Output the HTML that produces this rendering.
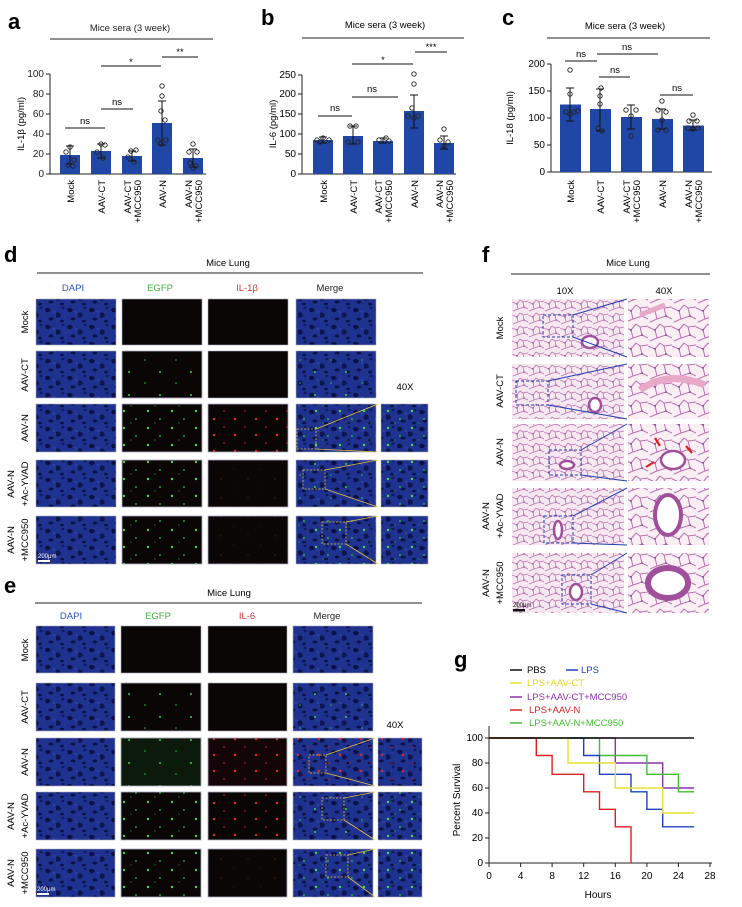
<!DOCTYPE html>
<html><head><meta charset="utf-8"><style>
html,body{margin:0;padding:0;background:#fff}
svg{display:block;font-family:"Liberation Sans",Arial,sans-serif}
</style></head><body>
<svg width="742" height="907" viewBox="0 0 742 907" xmlns="http://www.w3.org/2000/svg">
<defs>
<pattern id="dapi" width="22" height="17" patternUnits="userSpaceOnUse">
<rect width="22" height="17" fill="#1f3290"/>
<path d="M1 3 Q4 0 7 4 Q5 7 2 6Z" fill="#0a1245"/><path d="M12 7 Q16 5 17 10 Q14 13 12 11Z" fill="#0c1650"/>
<ellipse cx="7" cy="13" rx="2.5" ry="1.5" fill="#0a1245"/><ellipse cx="19" cy="2" rx="1.5" ry="1.2" fill="#0e1a5c"/>
<ellipse cx="10" cy="6" rx="1.2" ry="1" fill="#2e46aa"/><ellipse cx="18" cy="15" rx="2" ry="1.3" fill="#0a1245"/>
</pattern>
<pattern id="gd" width="31" height="23" patternUnits="userSpaceOnUse">
<circle cx="5" cy="4" r="1" fill="#3fd04a"/><circle cx="21" cy="15" r="0.8" fill="#36b840"/>
</pattern>
<pattern id="gd2" width="24" height="17" patternUnits="userSpaceOnUse">
<circle cx="4" cy="3" r="1.2" fill="#45d850"/><circle cx="16" cy="11" r="0.9" fill="#3ac444"/><circle cx="11" cy="15" r="0.6" fill="#2a9a33"/>
</pattern>
<pattern id="rd" width="21" height="16" patternUnits="userSpaceOnUse">
<circle cx="4" cy="3" r="1.2" fill="#e02828"/><circle cx="14" cy="11" r="0.9" fill="#b02020"/>
</pattern>
<pattern id="rf" width="27" height="19" patternUnits="userSpaceOnUse">
<circle cx="5" cy="4" r="0.7" fill="#5a1212"/><circle cx="18" cy="13" r="0.6" fill="#4a1010"/>
</pattern>
<pattern id="he" width="16" height="13" patternUnits="userSpaceOnUse">
<rect width="16" height="13" fill="#f6e8f0"/>
<path d="M0 3 L5 5 L8 1 M5 5 L6 10 L1 12 M6 10 L12 8 L16 10 M12 8 L11 3 L16 2 M11 3 L8 1" stroke="#bd74b2" stroke-width="0.8" fill="none"/>
<circle cx="5" cy="5" r="0.7" fill="#7a3a8a"/><circle cx="12" cy="8" r="0.7" fill="#7a3a8a"/>
</pattern>
<pattern id="he2" width="24" height="19" patternUnits="userSpaceOnUse">
<rect width="24" height="19" fill="#f8eef4"/>
<path d="M0 4 L7 7 L12 1 M7 7 L9 15 L2 18 M9 15 L18 12 L24 15 M18 12 L16 4 L24 3 M16 4 L12 1" stroke="#b872ac" stroke-width="1" fill="none"/>
<circle cx="7" cy="7" r="0.9" fill="#7a3a8a"/><circle cx="18" cy="12" r="0.9" fill="#7a3a8a"/>
</pattern>
</defs>

<!-- ===== Panel a ===== -->
<text x="8" y="29" font-size="22" font-weight="bold">a</text>
<text x="130" y="31" font-size="9.5" text-anchor="middle" fill="#222">Mice sera (3 week)</text>
<line x1="50" y1="39" x2="213" y2="39" stroke="#222" stroke-width="1"/>
<g stroke="#222" stroke-width="1" fill="none">
<line x1="50" y1="74" x2="50" y2="174"/><line x1="50" y1="174" x2="206" y2="174"/>
<line x1="46" y1="74" x2="50" y2="74"/><line x1="46" y1="94" x2="50" y2="94"/><line x1="46" y1="114" x2="50" y2="114"/><line x1="46" y1="134" x2="50" y2="134"/><line x1="46" y1="154" x2="50" y2="154"/><line x1="46" y1="174" x2="50" y2="174"/>
</g>
<g font-size="10" text-anchor="end" fill="#222"><text x="44" y="77">100</text><text x="44" y="97">80</text><text x="44" y="117">60</text><text x="44" y="137">40</text><text x="44" y="157">20</text><text x="44" y="177">0</text></g>
<text transform="translate(24,124) rotate(-90)" font-size="9.5" text-anchor="middle">IL-1β (pg/ml)</text>
<g fill="#2046a6"><rect x="60" y="155" width="20" height="19"/><rect x="91" y="151" width="20" height="23"/><rect x="122" y="156" width="20" height="18"/><rect x="152" y="123" width="20" height="51"/><rect x="183" y="158" width="20" height="16"/></g>
<g stroke="#111" stroke-width="1"><path d="M70 146V164M66 146H74M66 164H74"/><path d="M101 144V158M97 144H105M97 158H105"/><path d="M132 151V161M128 151H136M128 161H136"/><path d="M162 101V145M158 101H166M158 145H166"/><path d="M193 149V167M189 149H197M189 167H197"/></g>
<g fill="none" stroke="#222" stroke-width="0.9">
<circle cx="70" cy="147" r="2.2"/><circle cx="66" cy="152" r="2.2"/><circle cx="74" cy="160" r="2.2"/><circle cx="68" cy="165" r="2.2"/><circle cx="73" cy="166" r="2.2"/>
<circle cx="101" cy="144" r="2.2"/><circle cx="105" cy="145" r="2.2"/><circle cx="97" cy="152" r="2.2"/><circle cx="103" cy="158" r="2.2"/>
<circle cx="131" cy="151" r="2.2"/><circle cx="136" cy="150" r="2.2"/><circle cx="128" cy="157" r="2.2"/><circle cx="134" cy="162" r="2.2"/>
<circle cx="162" cy="86" r="2.2"/><circle cx="162" cy="96" r="2.2"/><circle cx="161" cy="111" r="2.2"/><circle cx="165" cy="120" r="2.2"/><circle cx="158" cy="140" r="2.2"/><circle cx="166" cy="140" r="2.2"/><circle cx="161" cy="144" r="2.2"/>
<circle cx="193" cy="144" r="2.2"/><circle cx="189" cy="152" r="2.2"/><circle cx="197" cy="152" r="2.2"/><circle cx="190" cy="163" r="2.2"/><circle cx="196" cy="166" r="2.2"/><circle cx="193" cy="168" r="2.2"/>
</g>
<g stroke="#111" stroke-width="1"><line x1="65" y1="128" x2="105" y2="128"/><line x1="101" y1="109" x2="133" y2="109"/><line x1="101" y1="66" x2="161" y2="66"/><line x1="162" y1="57" x2="198" y2="57"/></g>
<g font-size="9.5" text-anchor="middle"><text x="85" y="124">ns</text><text x="117" y="105">ns</text><text x="131" y="65">*</text><text x="180" y="55">**</text></g>
<g font-size="9.5" text-anchor="end">
<text transform="translate(74,180) rotate(-90)">Mock</text>
<text transform="translate(105,180) rotate(-90)">AAV-CT</text>
<text transform="translate(131,180) rotate(-90)">AAV-CT</text><text transform="translate(141,180) rotate(-90)">+MCC950</text>
<text transform="translate(166,180) rotate(-90)">AAV-N</text>
<text transform="translate(192,180) rotate(-90)">AAV-N</text><text transform="translate(202,180) rotate(-90)">+MCC950</text>
</g>

<!-- ===== Panel b ===== -->
<text x="261" y="25" font-size="22" font-weight="bold">b</text>
<text x="385" y="28" font-size="9.5" text-anchor="middle">Mice sera (3 week)</text>
<line x1="302" y1="38" x2="464" y2="38" stroke="#222"/>
<g stroke="#222" fill="none"><line x1="302" y1="75" x2="302" y2="174"/><line x1="302" y1="174" x2="456" y2="174"/>
<path d="M298 75H302M298 94H302M298 114H302M298 134H302M298 154H302M298 174H302"/></g>
<g font-size="10" text-anchor="end"><text x="296" y="78">250</text><text x="296" y="97">200</text><text x="296" y="117">150</text><text x="296" y="137">100</text><text x="296" y="157">50</text><text x="296" y="177">0</text></g>
<text transform="translate(276,124) rotate(-90)" font-size="9.5" text-anchor="middle">IL-6 (pg/ml)</text>
<g fill="#2046a6"><rect x="313" y="140" width="20" height="34"/><rect x="343" y="136" width="20" height="38"/><rect x="373" y="141" width="20" height="33"/><rect x="404" y="111" width="20" height="63"/><rect x="434" y="143" width="20" height="31"/></g>
<g stroke="#111"><path d="M323 137V143M319 137H327M319 143H327"/><path d="M353 126V144M349 126H357M349 144H357"/><path d="M383 138V143M379 138H387M379 143H387"/><path d="M414 95V128M410 95H418M410 128H418"/><path d="M444 136V149M440 136H448M440 149H448"/></g>
<g fill="none" stroke="#222" stroke-width="0.9">
<circle cx="317" cy="140" r="2.2"/><circle cx="323" cy="138" r="2.2"/><circle cx="329" cy="140" r="2.2"/><circle cx="320" cy="142" r="2.2"/>
<circle cx="350" cy="126" r="2.2"/><circle cx="356" cy="126" r="2.2"/><circle cx="348" cy="142" r="2.2"/><circle cx="358" cy="142" r="2.2"/>
<circle cx="379" cy="140" r="2.2"/><circle cx="386" cy="138" r="2.2"/><circle cx="389" cy="141" r="2.2"/>
<circle cx="414" cy="74" r="2.2"/><circle cx="414" cy="84" r="2.2"/><circle cx="412" cy="108" r="2.2"/><circle cx="408" cy="116" r="2.2"/><circle cx="418" cy="116" r="2.2"/><circle cx="414" cy="118" r="2.2"/>
<circle cx="444" cy="129" r="2.2"/><circle cx="440" cy="140" r="2.2"/><circle cx="448" cy="142" r="2.2"/><circle cx="444" cy="146" r="2.2"/>
</g>
<g stroke="#111"><line x1="318" y1="116" x2="352" y2="116"/><line x1="352" y1="97" x2="398" y2="97"/><line x1="352" y1="64" x2="413" y2="64"/><line x1="415" y1="52" x2="447" y2="52"/></g>
<g font-size="9.5" text-anchor="middle"><text x="335" y="111">ns</text><text x="372" y="92">ns</text><text x="383" y="63">*</text><text x="431" y="50">***</text></g>
<g font-size="9.5" text-anchor="end">
<text transform="translate(327,180) rotate(-90)">Mock</text>
<text transform="translate(357,180) rotate(-90)">AAV-CT</text>
<text transform="translate(382,180) rotate(-90)">AAV-CT</text><text transform="translate(392,180) rotate(-90)">+MCC950</text>
<text transform="translate(418,180) rotate(-90)">AAV-N</text>
<text transform="translate(443,180) rotate(-90)">AAV-N</text><text transform="translate(453,180) rotate(-90)">+MCC950</text>
</g>

<!-- ===== Panel c ===== -->
<text x="502" y="25" font-size="22" font-weight="bold">c</text>
<text x="625" y="29" font-size="9.5" text-anchor="middle">Mice sera (3 week)</text>
<line x1="547" y1="38" x2="710" y2="38" stroke="#222"/>
<g stroke="#222" fill="none"><line x1="551" y1="64" x2="551" y2="172"/><line x1="551" y1="172" x2="712" y2="172"/>
<path d="M547 64H551M547 91H551M547 118H551M547 145H551M547 172H551"/></g>
<g font-size="10" text-anchor="end"><text x="545" y="67">200</text><text x="545" y="94">150</text><text x="545" y="121">100</text><text x="545" y="148">50</text><text x="545" y="175">0</text></g>
<text transform="translate(513,118) rotate(-90)" font-size="9.5" text-anchor="middle">IL-18 (pg/ml)</text>
<g fill="#2046a6"><rect x="560" y="104.5" width="21" height="67.5"/><rect x="590" y="109" width="21" height="63"/><rect x="621" y="117" width="21" height="55"/><rect x="652" y="119" width="21" height="53"/><rect x="683" y="125.6" width="21" height="46.4"/></g>
<g stroke="#111"><path d="M570 88V121M566 88H574M566 121H574"/><path d="M600 89V131M596 89H604M596 131H604"/><path d="M631 105V129M627 105H635M627 129H635"/><path d="M662 109V129M658 109H666M658 129H666"/><path d="M693 120V130M689 120H697M689 130H697"/></g>
<g fill="none" stroke="#222" stroke-width="0.9">
<circle cx="570" cy="70" r="2.2"/><circle cx="570" cy="94" r="2.2"/><circle cx="566" cy="112" r="2.2"/><circle cx="574" cy="112" r="2.2"/><circle cx="578" cy="111" r="2.2"/><circle cx="570" cy="114" r="2.2"/>
<circle cx="601" cy="88" r="2.2"/><circle cx="600" cy="96" r="2.2"/><circle cx="600" cy="104" r="2.2"/><circle cx="598" cy="128" r="2.2"/><circle cx="602" cy="131" r="2.2"/>
<circle cx="626" cy="110" r="2.2"/><circle cx="636" cy="110" r="2.2"/><circle cx="631" cy="116" r="2.2"/><circle cx="631" cy="136" r="2.2"/>
<circle cx="662" cy="101" r="2.2"/><circle cx="658" cy="110" r="2.2"/><circle cx="666" cy="112" r="2.2"/><circle cx="662" cy="120" r="2.2"/><circle cx="658" cy="130" r="2.2"/><circle cx="666" cy="130" r="2.2"/>
<circle cx="693" cy="115" r="2.2"/><circle cx="689" cy="121" r="2.2"/><circle cx="697" cy="121" r="2.2"/><circle cx="688" cy="128" r="2.2"/><circle cx="698" cy="128" r="2.2"/><circle cx="693" cy="129" r="2.2"/>
</g>
<g stroke="#111"><line x1="565" y1="61" x2="597" y2="61"/><line x1="597" y1="54" x2="658" y2="54"/><line x1="599" y1="77" x2="630" y2="77"/><line x1="660" y1="95" x2="693" y2="95"/></g>
<g font-size="9.5" text-anchor="middle"><text x="581" y="57">ns</text><text x="627" y="50">ns</text><text x="615" y="73">ns</text><text x="677" y="91">ns</text></g>
<g font-size="9.5" text-anchor="end">
<text transform="translate(574,180) rotate(-90)">Mock</text>
<text transform="translate(604,180) rotate(-90)">AAV-CT</text>
<text transform="translate(630,180) rotate(-90)">AAV-CT</text><text transform="translate(640,180) rotate(-90)">+MCC950</text>
<text transform="translate(666,180) rotate(-90)">AAV-N</text>
<text transform="translate(692,180) rotate(-90)">AAV-N</text><text transform="translate(702,180) rotate(-90)">+MCC950</text>
</g>

<!-- ===== Panel d ===== -->
<text x="4" y="262" font-size="22" font-weight="bold">d</text>
<text x="228" y="266" font-size="9.5" text-anchor="middle">Mice Lung</text>
<line x1="37" y1="273" x2="423" y2="273" stroke="#222"/>
<g font-size="9.5" text-anchor="middle"><text x="73" y="291" fill="#3050c0">DAPI</text><text x="160" y="291" fill="#40b040">EGFP</text><text x="247" y="291" fill="#e03030">IL-1β</text><text x="330" y="291" fill="#222">Merge</text></g>
<text x="405" y="390" font-size="9.5" text-anchor="middle">40X</text>
<g stroke="#aab" stroke-width="0.6">
<rect x="36" y="299" width="80" height="46" fill="url(#dapi)"/><rect x="122" y="299" width="80" height="46" fill="#0a0606"/><rect x="208" y="299" width="80" height="46" fill="#0a0606"/><rect x="296" y="299" width="80" height="46" fill="url(#dapi)"/>
<rect x="36" y="351" width="80" height="47" fill="url(#dapi)"/><rect x="122" y="351" width="80" height="47" fill="#0a0606"/><rect x="122" y="351" width="80" height="47" fill="url(#gd)"/><rect x="208" y="351" width="80" height="47" fill="#0a0606"/><rect x="296" y="351" width="80" height="47" fill="url(#dapi)"/><rect x="296" y="351" width="80" height="47" fill="url(#gd)" stroke="none"/>
<rect x="36" y="404" width="80" height="48" fill="url(#dapi)"/><rect x="122" y="404" width="80" height="48" fill="#0a0606"/><rect x="122" y="404" width="80" height="48" fill="url(#gd2)"/><rect x="208" y="404" width="80" height="48" fill="#0a0606"/><rect x="208" y="404" width="80" height="48" fill="url(#rd)"/><rect x="296" y="404" width="80" height="48" fill="url(#dapi)"/><rect x="296" y="404" width="80" height="48" fill="url(#gd2)" stroke="none"/><rect x="381" y="404" width="47" height="48" fill="url(#dapi)"/><rect x="381" y="404" width="47" height="48" fill="url(#gd2)" stroke="none"/>
<rect x="36" y="460" width="80" height="47" fill="url(#dapi)"/><rect x="122" y="460" width="80" height="47" fill="#0a0606"/><rect x="122" y="460" width="80" height="47" fill="url(#gd2)"/><rect x="208" y="460" width="80" height="47" fill="#0a0606"/><rect x="208" y="460" width="80" height="47" fill="url(#rf)"/><rect x="296" y="460" width="80" height="47" fill="url(#dapi)"/><rect x="296" y="460" width="80" height="47" fill="url(#gd)" stroke="none"/><rect x="381" y="460" width="47" height="47" fill="url(#dapi)"/><rect x="381" y="460" width="47" height="47" fill="url(#gd2)" stroke="none"/>
<rect x="36" y="516" width="80" height="48" fill="url(#dapi)"/><rect x="122" y="516" width="80" height="48" fill="#0a0606"/><rect x="122" y="516" width="80" height="48" fill="url(#gd2)"/><rect x="208" y="516" width="80" height="48" fill="#0a0606"/><rect x="208" y="516" width="80" height="48" fill="url(#rf)"/><rect x="296" y="516" width="80" height="48" fill="url(#dapi)"/><rect x="296" y="516" width="80" height="48" fill="url(#gd2)" stroke="none"/><rect x="381" y="516" width="47" height="48" fill="url(#dapi)"/><rect x="381" y="516" width="47" height="48" fill="url(#gd2)" stroke="none"/>
</g>
<g stroke="#e8c040" stroke-width="0.8" fill="none">
<rect x="297" y="429" width="19" height="20" stroke-dasharray="2,1.5"/><path d="M316 429L378 404M316 449L378 452"/>
<rect x="303" y="470" width="22" height="19" stroke-dasharray="2,1.5"/><path d="M325 470L378 460M325 489L378 507"/>
<rect x="322" y="522" width="24" height="22" stroke-dasharray="2,1.5"/><path d="M346 522L378 516M346 544L378 564"/>
</g>
<rect x="38" y="560" width="12" height="2" fill="#fff"/><text x="38" y="558" font-size="6" fill="#fff">200μm</text>
<g font-size="9.5" text-anchor="middle">
<text transform="translate(28,322) rotate(-90)">Mock</text>
<text transform="translate(28,375) rotate(-90)">AAV-CT</text>
<text transform="translate(28,428) rotate(-90)">AAV-N</text>
<text transform="translate(14,484) rotate(-90)">AAV-N</text><text transform="translate(28,484) rotate(-90)">+Ac-YVAD</text>
<text transform="translate(14,540) rotate(-90)">AAV-N</text><text transform="translate(28,540) rotate(-90)">+MCC950</text>
</g>

<!-- ===== Panel e ===== -->
<text x="4" y="593" font-size="22" font-weight="bold">e</text>
<text x="229" y="596" font-size="9.5" text-anchor="middle">Mice Lung</text>
<line x1="35" y1="603" x2="422" y2="603" stroke="#222"/>
<g font-size="9.5" text-anchor="middle"><text x="71" y="619" fill="#3050c0">DAPI</text><text x="158" y="619" fill="#40b040">EGFP</text><text x="247" y="619" fill="#e03030">IL-6</text><text x="327" y="619" fill="#222">Merge</text></g>
<text x="395" y="728" font-size="9.5" text-anchor="middle">40X</text>
<g stroke="#aab" stroke-width="0.6">
<rect x="36" y="626" width="79" height="47" fill="url(#dapi)"/><rect x="121" y="626" width="80" height="47" fill="#0a0606"/><rect x="208" y="626" width="79" height="47" fill="#0a0606"/><rect x="293" y="626" width="80" height="47" fill="url(#dapi)"/>
<rect x="36" y="683" width="79" height="48" fill="url(#dapi)"/><rect x="121" y="683" width="80" height="48" fill="#0a0606"/><rect x="121" y="683" width="80" height="48" fill="url(#gd)"/><rect x="208" y="683" width="79" height="48" fill="#0a0606"/><rect x="293" y="683" width="80" height="48" fill="url(#dapi)"/><rect x="293" y="683" width="80" height="48" fill="url(#gd)" stroke="none"/>
<rect x="36" y="738" width="79" height="48" fill="url(#dapi)"/><rect x="121" y="738" width="80" height="48" fill="#0b1a0b"/><rect x="121" y="738" width="80" height="48" fill="url(#gd)"/><rect x="208" y="738" width="79" height="48" fill="#140606"/><rect x="208" y="738" width="79" height="48" fill="url(#rd)"/><rect x="293" y="738" width="80" height="48" fill="url(#dapi)"/><rect x="293" y="738" width="80" height="48" fill="url(#rd)" stroke="none"/><rect x="378" y="738" width="44" height="48" fill="url(#dapi)"/><rect x="378" y="738" width="44" height="48" fill="url(#rd)" stroke="none"/>
<rect x="36" y="792" width="79" height="48" fill="url(#dapi)"/><rect x="121" y="792" width="80" height="48" fill="#0a0606"/><rect x="121" y="792" width="80" height="48" fill="url(#gd2)"/><rect x="208" y="792" width="79" height="48" fill="#0a0606"/><rect x="208" y="792" width="79" height="48" fill="url(#rd)"/><rect x="293" y="792" width="80" height="48" fill="url(#dapi)"/><rect x="293" y="792" width="80" height="48" fill="url(#gd)" stroke="none"/><rect x="378" y="792" width="44" height="48" fill="url(#dapi)"/><rect x="378" y="792" width="44" height="48" fill="url(#gd2)" stroke="none"/>
<rect x="36" y="849" width="79" height="48" fill="url(#dapi)"/><rect x="121" y="849" width="80" height="48" fill="#0a0606"/><rect x="121" y="849" width="80" height="48" fill="url(#gd2)"/><rect x="208" y="849" width="79" height="48" fill="#0a0606"/><rect x="208" y="849" width="79" height="48" fill="url(#rf)"/><rect x="293" y="849" width="80" height="48" fill="url(#dapi)"/><rect x="293" y="849" width="80" height="48" fill="url(#gd2)" stroke="none"/><rect x="378" y="849" width="44" height="48" fill="url(#dapi)"/><rect x="378" y="849" width="44" height="48" fill="url(#gd2)" stroke="none"/>
</g>
<g stroke="#e8c040" stroke-width="0.8" fill="none">
<rect x="309" y="755" width="17" height="18" stroke-dasharray="2,1.5"/><path d="M326 755L375 738M326 773L375 786"/>
<rect x="322" y="798" width="22" height="22" stroke-dasharray="2,1.5"/><path d="M344 798L375 792M344 820L375 840"/>
<rect x="326" y="855" width="22" height="22" stroke-dasharray="2,1.5"/><path d="M348 855L375 849M348 877L375 897"/>
</g>
<rect x="37" y="893" width="12" height="2" fill="#fff"/><text x="37" y="891" font-size="6" fill="#fff">200μm</text>
<g font-size="9.5" text-anchor="middle">
<text transform="translate(28,650) rotate(-90)">Mock</text>
<text transform="translate(28,707) rotate(-90)">AAV-CT</text>
<text transform="translate(28,762) rotate(-90)">AAV-N</text>
<text transform="translate(14,816) rotate(-90)">AAV-N</text><text transform="translate(28,816) rotate(-90)">+Ac-YVAD</text>
<text transform="translate(14,873) rotate(-90)">AAV-N</text><text transform="translate(28,873) rotate(-90)">+MCC950</text>
</g>

<!-- ===== Panel f ===== -->
<text x="482" y="262" font-size="22" font-weight="bold">f</text>
<text x="628" y="266" font-size="9.5" text-anchor="middle">Mice Lung</text>
<line x1="511" y1="274" x2="710" y2="274" stroke="#222"/>
<g font-size="9.5" text-anchor="middle"><text x="565" y="294">10X</text><text x="664" y="294">40X</text></g>
<g>
<rect x="512" y="299" width="112" height="58" fill="url(#he)"/><rect x="628" y="299" width="81" height="58" fill="url(#he2)"/>
<rect x="512" y="364" width="112" height="55" fill="url(#he)"/><rect x="628" y="364" width="81" height="55" fill="url(#he2)"/>
<rect x="512" y="424" width="112" height="57" fill="url(#he)"/><rect x="628" y="424" width="81" height="57" fill="url(#he2)"/>
<rect x="512" y="488" width="112" height="57" fill="url(#he)"/><rect x="628" y="488" width="81" height="57" fill="url(#he2)"/>
<rect x="512" y="553" width="112" height="60" fill="url(#he)"/><rect x="628" y="553" width="81" height="60" fill="url(#he2)"/>
</g>
<g fill="#fff" stroke="#a0509a" stroke-width="2.5">
<ellipse cx="590" cy="342" rx="8" ry="6"/><ellipse cx="595" cy="405" rx="6" ry="7"/><ellipse cx="567" cy="465" rx="7" ry="4"/><ellipse cx="558" cy="530" rx="4" ry="9"/><ellipse cx="576" cy="592" rx="6" ry="8"/>
<ellipse cx="673" cy="460" rx="12" ry="9"/><ellipse cx="668" cy="515" rx="13" ry="20" stroke-width="4"/><ellipse cx="668" cy="583" rx="20" ry="15" stroke-width="6"/>
</g>
<path d="M640 390 Q668 370 705 385" stroke="#e8a8c8" stroke-width="7" fill="none"/>
<path d="M640 315 L665 305" stroke="#e8a8c8" stroke-width="5" fill="none"/>
<g stroke="#e02020" stroke-width="2.2"><line x1="654" y1="462" x2="646" y2="467"/><line x1="655" y1="438" x2="660" y2="446"/><line x1="686" y1="446" x2="692" y2="453"/></g>
<g stroke="#2040b0" stroke-width="1" fill="none">
<rect x="543" y="315" width="30" height="22" stroke-dasharray="3,2"/><path d="M573 315L627 299M573 337L627 357"/>
<rect x="516" y="381" width="32" height="24" stroke-dasharray="3,2"/><path d="M548 381L627 364M548 405L627 419"/>
<rect x="549" y="450" width="32" height="25" stroke-dasharray="3,2"/><path d="M581 450L627 424M581 475L627 481"/>
<rect x="544" y="516" width="29" height="27" stroke-dasharray="3,2"/><path d="M573 516L627 488M573 543L627 545"/>
<rect x="562" y="575" width="29" height="29" stroke-dasharray="3,2"/><path d="M591 575L627 553M591 604L627 613"/>
</g>
<rect x="513" y="609" width="12" height="2.5" fill="#111"/><text x="513" y="607" font-size="6">200μm</text>
<g font-size="9.5" text-anchor="middle">
<text transform="translate(503,328) rotate(-90)">Mock</text>
<text transform="translate(503,391) rotate(-90)">AAV-CT</text>
<text transform="translate(503,452) rotate(-90)">AAV-N</text>
<text transform="translate(489,516) rotate(-90)">AAV-N</text><text transform="translate(503,516) rotate(-90)">+Ac-YVAD</text>
<text transform="translate(489,583) rotate(-90)">AAV-N</text><text transform="translate(503,583) rotate(-90)">+MCC950</text>
</g>

<!-- ===== Panel g ===== -->
<text x="454" y="667" font-size="22" font-weight="bold">g</text>
<g font-size="9.5">
<line x1="510" y1="670" x2="522" y2="670" stroke="#111" stroke-width="1.5"/><text x="527" y="673">PBS</text>
<line x1="566" y1="670" x2="578" y2="670" stroke="#2040c0" stroke-width="1.5"/><text x="581" y="673" fill="#2040c0">LPS</text>
<line x1="510" y1="683" x2="522" y2="683" stroke="#e8e030" stroke-width="1.5"/><text x="527" y="686" fill="#e0d820">LPS+AAV-CT</text>
<line x1="510" y1="697" x2="522" y2="697" stroke="#9030b0" stroke-width="1.5"/><text x="527" y="700" fill="#9030b0">LPS+AAV-CT+MCC950</text>
<line x1="510" y1="710" x2="522" y2="710" stroke="#e02020" stroke-width="1.5"/><text x="529" y="713" fill="#e02020">LPS+AAV-N</text>
<line x1="510" y1="723" x2="522" y2="723" stroke="#40c030" stroke-width="1.5"/><text x="529" y="726" fill="#40c030">LPS+AAV-N+MCC950</text>
</g>
<g stroke="#222" fill="none"><line x1="489" y1="726" x2="489" y2="863"/><line x1="489" y1="863" x2="712" y2="863"/>
<path d="M485 738H489M485 763H489M485 788H489M485 813H489M485 838H489M485 863H489"/>
<path d="M489 863V867M520.6 863V867M552.1 863V867M583.7 863V867M615.3 863V867M646.9 863V867M678.4 863V867M710 863V867"/></g>
<g font-size="10" text-anchor="end"><text x="483" y="741">100</text><text x="483" y="766">80</text><text x="483" y="791">60</text><text x="483" y="816">40</text><text x="483" y="841">20</text><text x="483" y="866">0</text></g>
<g font-size="10" text-anchor="middle"><text x="489" y="879">0</text><text x="520.6" y="879">4</text><text x="552.1" y="879">8</text><text x="583.7" y="879">12</text><text x="615.3" y="879">16</text><text x="646.9" y="879">20</text><text x="678.4" y="879">24</text><text x="710" y="879">28</text></g>
<text x="598" y="898" font-size="10" text-anchor="middle">Hours</text>
<text transform="translate(460,800) rotate(-90)" font-size="10" text-anchor="middle">Percent Survival</text>
<g fill="none" stroke-width="1.4">
<path d="M489 738H615.3V763H662.7V788H694.1" stroke="#9030b0"/>
<path d="M489 738H599.5V755.5H646.9V774.3H678.4V791.8H694.1" stroke="#40c030"/>
<path d="M489 738H583.7V755.5H599.5V774.3H631.0V791.8H646.9V809.3H662.7V826.8H694.1" stroke="#2040c0"/>
<path d="M489 738H568V763H615.3V788H662.7V813H694.1" stroke="#e8e030"/>
<path d="M489 738H536.3V755.5H552.1V774.3H583.7V791.8H599.5V809.3H615.3V826.8H631.0V863" stroke="#e02020"/>
<path d="M489 738H694.1" stroke="#111" stroke-width="1.6"/>
</g>
</svg>
</body></html>
